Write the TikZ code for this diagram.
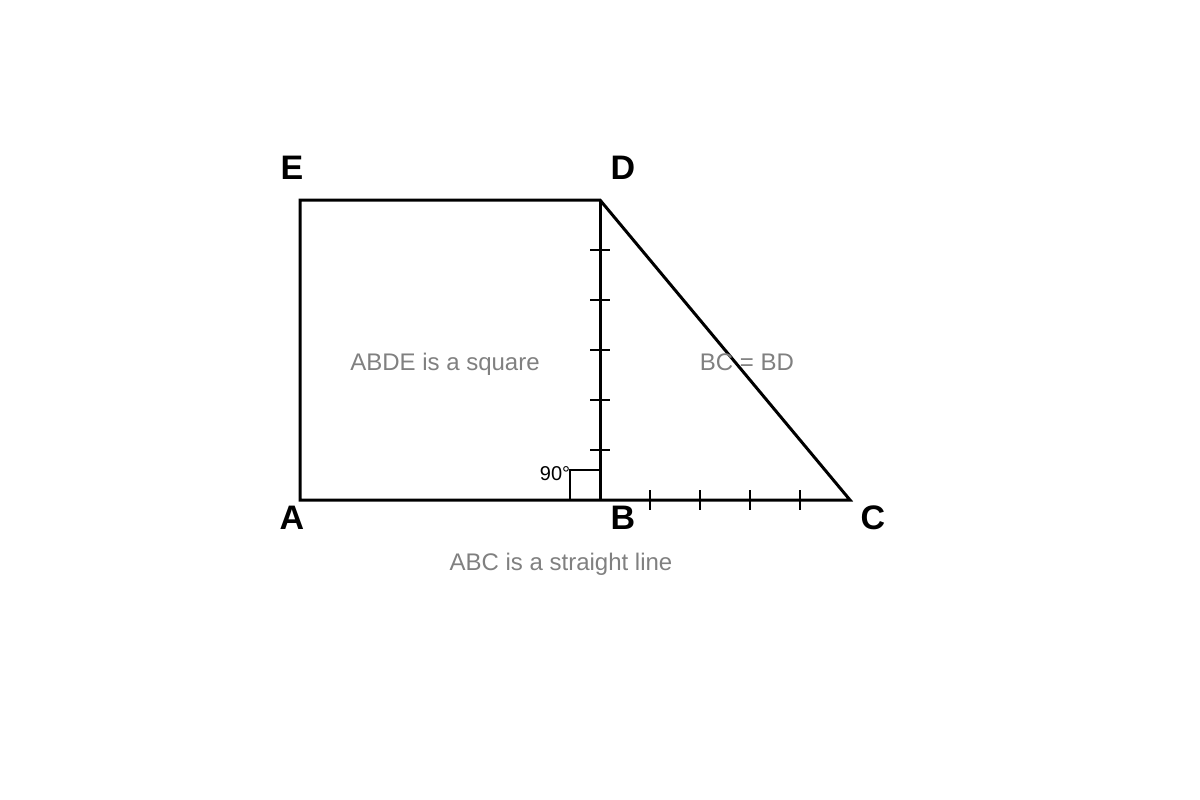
\documentclass[tikz,border=0pt]{standalone}
\usepackage{fontspec}
\setmainfont{Liberation Sans}
\begin{document}
\begin{tikzpicture}[x=0.75pt,y=-0.75pt,
  edge/.style={line width=2.25pt,line join=miter},
  tick/.style={line width=1.5pt},
  ptlabel/.style={font=\fontsize{25.5}{30}\selectfont\bfseries,inner sep=0pt},
  note/.style={font=\fontsize{18}{22}\selectfont,text={rgb,255:red,128;green,128;blue,128},inner sep=0pt}]
\useasboundingbox (0,0) rectangle (1200,800);
\coordinate (A) at (300,500);
\coordinate (B) at (600,500);
\coordinate (C) at (850,500);
\coordinate (D) at (600,200);
\coordinate (E) at (300,200);
\draw[edge] (A) -- (C) -- (D) -- (E) -- cycle;
\draw[edge] (D) -- (B);
% ticks on BD
\foreach \y in {250,300,350,400,450} \draw[tick] (590,\y) -- (610,\y);
% ticks on BC
\foreach \x in {650,700,750,800} \draw[tick] (\x,490) -- (\x,510);
% right angle
\draw[line width=1.1pt] (570,500) -- (570,470) -- (600,470);
\node[font=\fontsize{15}{18}\selectfont,inner sep=0pt] (ang) at (555,474) {90°};
\node[ptlabel] (lE) at (292,168) {E};
\node[ptlabel] (lD) at (623,168) {D};
\node[ptlabel] (lA) at (292,518) {A};
\node[ptlabel] (lB) at (623,518) {B};
\node[ptlabel] (lC) at (873,518) {C};
\node[note] (n1) at (445,364) {ABDE is a square};
\node[note] (n2) at (747,362) {BC = BD};
\node[note] (n3) at (561,564) {ABC is a straight line};
\end{tikzpicture}
\end{document}
